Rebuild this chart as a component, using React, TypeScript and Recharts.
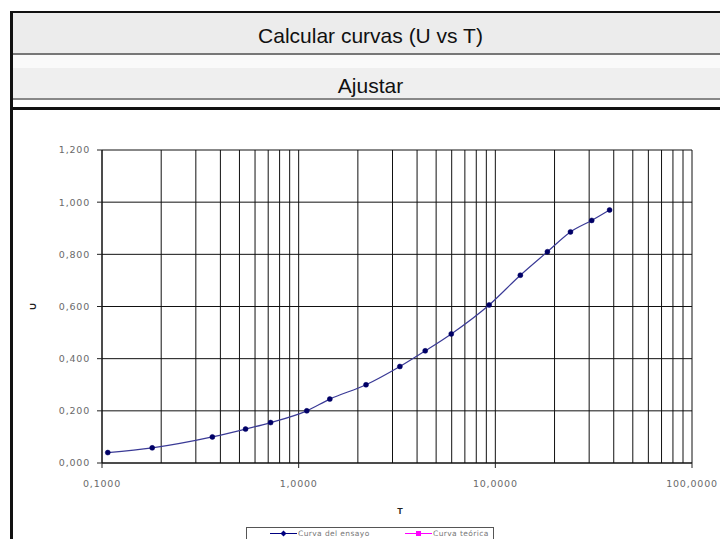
import { CartesianGrid, Label, Line, LineChart, XAxis, YAxis } from "recharts";

// Curva del ensayo
const T_VALUES = [0.107, 0.18, 0.364, 0.537, 0.72, 1.1, 1.44, 2.2, 3.27, 4.4, 5.97, 9.3, 13.4, 18.4, 24.1, 30.9, 38.1];
const U_VALUES = [0.04, 0.058, 0.1, 0.13, 0.155, 0.2, 0.245, 0.3, 0.37, 0.43, 0.495, 0.606, 0.72, 0.81, 0.886, 0.93, 0.97];

const X_TICKS = [
  0.1, 0.2, 0.3, 0.4, 0.5, 0.6, 0.7, 0.8, 0.9,
  1, 2, 3, 4, 5, 6, 7, 8, 9,
  10, 20, 30, 40, 50, 60, 70, 80, 90,
  100,
];
const X_LABELED = [0.1, 1, 10, 100];
const Y_TICKS = [0, 0.2, 0.4, 0.6, 0.8, 1.0, 1.2];

const SERIES_NAMES = ["Curva del ensayo", "Curva teórica"];
const SERIES_COLORS = ["#000080", "#ff00ff"];

const data = T_VALUES.map((t, i) => ({ T: t, U: U_VALUES[i] }));

const FONT = "'Liberation Sans', Arial, sans-serif";
const TICK_FONT = "'DejaVu Sans', Verdana, sans-serif";

const comma = (v: number, digits: number) => v.toFixed(digits).replace(".", ",");

function XTick(props: any) {
  const { x, y, payload } = props;
  if (!X_LABELED.includes(payload.value)) return null;
  return (
    <g>
      <line x1={x} x2={x} y1={y} y2={y + 5} stroke="#222" />
      <text
        x={x}
        y={y + 24}
        textAnchor="middle"
        fontSize={9.5}
        letterSpacing={0.8}
        fill="#6a6a6a"
        fontFamily={TICK_FONT}
      >
        {comma(payload.value, 4)}
      </text>
    </g>
  );
}

function Legendish() {
  return (
    <div
      style={{
        position: "absolute",
        left: 246,
        top: 527,
        width: 246,
        height: 11,
        border: "1px solid #555",
        background: "#fff",
        fontFamily: TICK_FONT,
        fontSize: 7.5,
        letterSpacing: 0.4,
        color: "#777",
      }}
    >
      {SERIES_NAMES.map((name, i) => (
        <div
          key={name}
          style={{
            position: "absolute",
            left: i === 0 ? 23 : 158,
            top: 0,
            height: 11,
            display: "flex",
            alignItems: "center",
            gap: 1,
            whiteSpace: "nowrap",
          }}
        >
          <svg width={27} height={7}>
            <line x1={0} x2={27} y1={3.5} y2={3.5} stroke={SERIES_COLORS[i]} strokeWidth={1} />
            {i === 0 ? (
              <polygon points="13.5,0.5 16.5,3.5 13.5,6.5 10.5,3.5" fill={SERIES_COLORS[i]} />
            ) : (
              <rect x={11} y={1} width={5} height={5} fill={SERIES_COLORS[i]} />
            )}
          </svg>
          <span>{name}</span>
        </div>
      ))}
    </div>
  );
}

export default function App() {
  return (
    <div
      style={{
        position: "relative",
        width: 728,
        height: 547,
        margin: -8,
        background: "#fff",
        overflow: "hidden",
        fontFamily: FONT,
      }}
    >
      {/* header rows */}
      <div style={{ position: "absolute", left: 13, top: 13, width: 715, height: 40, background: "#ececec" }} />
      <div style={{ position: "absolute", left: 13, top: 25, width: 715, height: 21, lineHeight: "21px", fontSize: 21, textAlign: "center", color: "#111" }}>
        Calcular curvas (U vs T)
      </div>
      <div style={{ position: "absolute", left: 13, top: 53, width: 715, height: 2, background: "#777" }} />
      <div style={{ position: "absolute", left: 13, top: 55, width: 715, height: 13, background: "#fafafa" }} />
      <div style={{ position: "absolute", left: 13, top: 68, width: 715, height: 30, background: "#efefef" }} />
      <div style={{ position: "absolute", left: 13, top: 75, width: 715, height: 21, lineHeight: "21px", fontSize: 21, textAlign: "center", color: "#111" }}>
        Ajustar
      </div>
      <div style={{ position: "absolute", left: 13, top: 98, width: 715, height: 2, background: "#888" }} />
      <div style={{ position: "absolute", left: 10, top: 107, width: 718, height: 3, background: "#111" }} />
      <div style={{ position: "absolute", left: 10, top: 11, width: 718, height: 2, background: "#111" }} />
      <div style={{ position: "absolute", left: 10, top: 11, width: 3, height: 536, background: "#111" }} />

      <div style={{ position: "absolute", left: 13, top: 110 }}>
        <LineChart width={715} height={437} data={data} margin={{ top: 40, right: 36, bottom: 0, left: 0 }}>
          <CartesianGrid stroke="#111" strokeWidth={1} />
          <XAxis
            dataKey="T"
            type="number"
            scale="log"
            domain={[0.1, 100]}
            ticks={X_TICKS}
            interval={0}
            allowDataOverflow
            height={84}
            tickSize={0}
            tickMargin={0}
            tickLine={false}
            axisLine={{ stroke: "#111" }}
            tick={<XTick />}
          >
            <Label
              content={({ viewBox }: any) => (
                <text
                  x={viewBox.x + viewBox.width / 2 + 3}
                  y={viewBox.y + 51}
                  textAnchor="middle"
                  fontSize={9}
                  fontWeight="bold"
                  fill="#222"
                  fontFamily={FONT}
                >
                  T
                </text>
              )}
            />
          </XAxis>
          <YAxis
            type="number"
            domain={[0, 1.2]}
            ticks={Y_TICKS}
            interval={0}
            width={89}
            tickSize={5}
            tickMargin={7}
            axisLine={{ stroke: "#111" }}
            tickLine={{ stroke: "#222" }}
            tick={{ fontSize: 9.5, fill: "#6a6a6a", fontFamily: TICK_FONT, letterSpacing: 0.8 }}
            tickFormatter={(v: number) => comma(v, 3)}
          >
            <Label
              content={({ viewBox }: any) => {
                const cx = viewBox.x + 20;
                const cy = viewBox.y + viewBox.height / 2;
                return (
                  <text
                    x={cx}
                    y={cy}
                    transform={`rotate(-90 ${cx} ${cy})`}
                    textAnchor="middle"
                    dominantBaseline="central"
                    fontSize={9}
                    fontWeight="bold"
                    fill="#222"
                    fontFamily={FONT}
                  >
                    U
                  </text>
                );
              }}
            />
          </YAxis>
          <Line
            type="monotone"
            dataKey="U"
            name={SERIES_NAMES[0]}
            stroke="#3a3a96"
            strokeWidth={1.2}
            dot={{ r: 2.5, fill: "#000066", stroke: "#000066", strokeWidth: 0.5 }}
            isAnimationActive={false}
          />
        </LineChart>
      </div>
      <Legendish />
    </div>
  );
}
